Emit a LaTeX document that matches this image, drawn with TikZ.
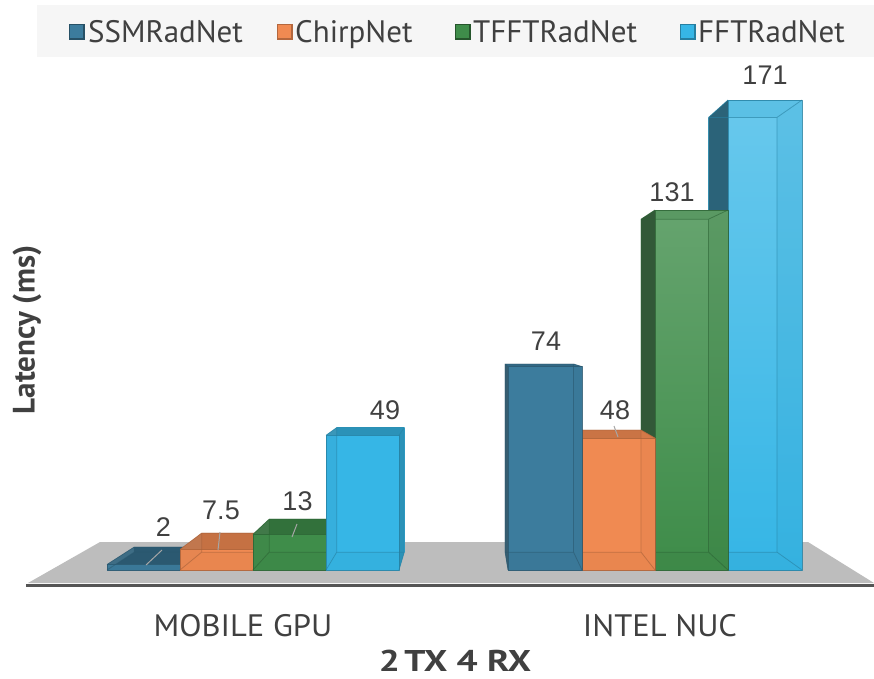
\documentclass[tikz,border=0pt]{standalone}
\usepackage{fontspec}
\usepackage{graphicx}
\setmainfont{PT Sans}
\newfontfamily\arialf{Liberation Sans}
\definecolor{ssm}{HTML}{3C7C9D}
\definecolor{chirp}{HTML}{F08A52}
\definecolor{tfft}{HTML}{3F8D4A}
\definecolor{fft}{HTML}{36B6E6}
\definecolor{txt}{HTML}{404040}
\definecolor{legbg}{HTML}{F6F6F6}
\definecolor{floorc}{HTML}{BDBDBD}
\definecolor{axisc}{HTML}{555555}
% #1 x1, #2 x2, #3 top y, #4 colour, #5 left face %, #6 right face %, #7 top face %, #8 top lighten %
\newcommand\cbar[8]{%
 \pgfmathsetmacro\qa{469+0.925*(#1-469)}%
 \pgfmathsetmacro\qb{469+0.925*(#2-469)}%
 \pgfmathsetmacro\qt{332+0.925*(#3-332)}%
 \def\qy{552.15}%
 \shade[top color=#4!#8!white, bottom color=#4] (\qa,\qt) rectangle (\qb,\qy);
 \fill[#4!86!black] (#1,570)--(#2,570)--(\qb,\qy)--(\qa,\qy)--cycle;
 \fill[#4!#7!black] (#1,#3)--(#2,#3)--(\qb,\qt)--(\qa,\qt)--cycle;
 \fill[#4!#5!black!85!gray] (#1,#3)--(#1,570)--(\qa,\qy)--(\qa,\qt)--cycle;
 \fill[#4!#6!black] (#2,#3)--(#2,570)--(\qb,\qy)--(\qb,\qt)--cycle;
 \shade[top color=#4!#8!white, bottom color=#4, fill opacity=0.8] (#1,#3) rectangle (#2,570);
 \draw[#4!70!black, line width=0.8pt, draw opacity=0.6, line join=round]
   (\qa,\qt) rectangle (\qb,\qy)
   (#1,#3)--(\qa,\qt) (#2,#3)--(\qb,\qt) (#1,570)--(\qa,\qy) (#2,570)--(\qb,\qy);
 \draw[#4!70!black, line width=1pt, draw opacity=0.8, line join=round] (#1,#3) rectangle (#2,570);
}
\tikzset{
  val/.style={font=\arialf\fontsize{27}{27}\selectfont, text=txt, inner sep=0pt},
  cat/.style={font=\fontsize{31}{31}\selectfont, text=txt, inner sep=0pt},
  legtxt/.style={font=\fontsize{31}{31}\selectfont, text=txt, inner sep=0pt, anchor=base west},
  leader/.style={draw=gray!70, line width=1pt},
  legsq/.style={line width=1.3pt}
}
\begin{document}
\begin{tikzpicture}[x=1pt,y=-1pt]
\useasboundingbox (0,0) rectangle (874,678);
% legend
\fill[legbg] (37,5) rectangle (874,57);
\filldraw[legsq, fill=ssm, draw=ssm!65!black] (69.5,24.5) rectangle (84,39);
\node[legtxt] (l1) at (88,42) {SSMRadNet};
\filldraw[legsq, fill=chirp, draw=chirp!75!black] (277.5,24.5) rectangle (292,39);
\node[legtxt] (l2) at (295,42) {ChirpNet};
\filldraw[legsq, fill=tfft, draw=tfft!60!black] (455.5,24.5) rectangle (470,39);
\node[legtxt] (l3) at (473,42) {TFFTRadNet};
\filldraw[legsq, fill=fft, draw=fft!70!black] (680.5,24.5) rectangle (695,39);
\node[legtxt] (l4) at (698,42) {FFTRadNet};
% floor
\fill[floorc] (28,583)--(100,542)--(808,542)--(874,583)--cycle;
\draw[axisc, line width=3pt] (26,585)--(874,585);
% left group, left to right
\cbar{107}{180}{564.5}{ssm}{85}{80}{72}{100}
\cbar{180}{253}{549.4}{chirp}{85}{80}{82}{100}
\cbar{253}{326}{534.3}{tfft}{85}{80}{80}{100}
\cbar{326}{399}{435.3}{fft}{85}{80}{80}{100}
% right group, right to left
\cbar{728}{802}{100}{fft}{52}{88}{88}{75}
\cbar{655}{728}{210}{tfft}{58}{82}{80}{80}
\cbar{582}{655}{438}{chirp}{70}{88}{84}{100}
\cbar{508}{582}{366.6}{ssm}{70}{88}{84}{100}
% value labels
\node[val] (v2) at (163.5,527.5) {2};
\node[val] (v75) at (221,510.5) {7.5};
\node[val] (v13) at (297.5,501.5) {13};
\node[val] (v49) at (385,410.5) {49};
\node[val] (v74) at (546,341.5) {74};
\node[val] (v48) at (615,410) {48};
\node[val] (v131) at (672,192.5) {131};
\node[val] (v171) at (765,75) {171};
\coordinate (a2) at (162,550); \coordinate (b2) at (146,565);
\coordinate (a75) at (220,532); \coordinate (b75) at (218,550);
\coordinate (a13) at (297,524); \coordinate (b13) at (292,537);
\coordinate (a48) at (614,426); \coordinate (b48) at (618,437);
\draw[leader] (a2)--(b2);
\draw[leader] (a75)--(b75);
\draw[leader] (a13)--(b13);
\draw[leader] (a48)--(b48);
% category labels
\node[cat] (c1) at (243,626) {\scalebox{1.05}[1]{MOBILE GPU}};
\node[cat] (c2) at (660,626) {\scalebox{1.05}[1]{INTEL NUC}};
\node[cat, font=\bfseries\fontsize{30}{30}\selectfont] (xt) at (455,660.5) {\scalebox{1.24}[1]{2\hspace{0.12em}TX 4 RX}};
\node[cat, font=\bfseries\fontsize{31}{31}\selectfont, rotate=90] (yt) at (27,330) {Latency (ms)};
\end{tikzpicture}
\end{document}
